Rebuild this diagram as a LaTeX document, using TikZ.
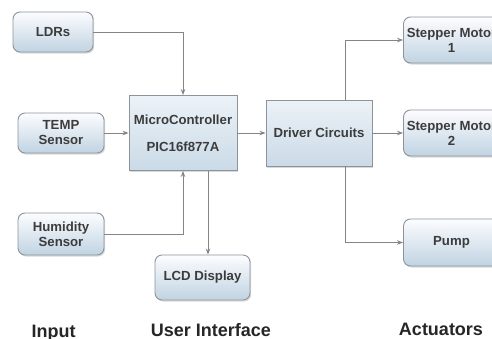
\documentclass[tikz,border=0pt]{standalone}
\usepackage{fontspec}
\setmainfont{Liberation Sans}
\usetikzlibrary{arrows.meta,shadows,calc}
\definecolor{txt}{HTML}{3C3C3C}
\definecolor{edge}{HTML}{8C949B}
\definecolor{wire}{HTML}{858585}
\tikzset{
  rbox/.style={draw=edge, line width=0.9pt, rounded corners=7pt, top color=white!90!blue!10, bottom color={rgb,255:red,192;green,211;blue,226},
    drop shadow={opacity=0.3, shadow xshift=1.2pt, shadow yshift=-1.5pt},
    text=txt, font=\bfseries\fontsize{13.2}{15}\selectfont, align=center, inner sep=2pt},
  sbox/.style={draw=edge, line width=0.9pt, top color={rgb,255:red,236;green,242;blue,247}, bottom color={rgb,255:red,202;green,218;blue,231},
    drop shadow={opacity=0.3, shadow xshift=1.2pt, shadow yshift=-1.5pt},
    text=txt, font=\bfseries\fontsize{13.2}{15}\selectfont, align=center, inner sep=2pt},
  wirearr/.style={draw=wire, line width=0.9pt, -{Stealth[length=6pt,width=4.5pt]}},
  grouplbl/.style={text=black!85, font=\bfseries\fontsize{18}{20}\selectfont, anchor=base, inner sep=0pt}
}
\begin{document}
\begin{tikzpicture}[x=1pt,y=-1pt]
\useasboundingbox (0,0) rectangle (492,338);
\clip (0,0) rectangle (492,338);
\node[rbox, minimum width=80pt, minimum height=40pt] (ldr) at (53,32) {LDRs};
\node[rbox, minimum width=86pt, minimum height=40pt] (temp) at (61,133) {TEMP\\Sensor};
\node[rbox, minimum width=86pt, minimum height=42pt] (hum) at (61,234) {Humidity\\Sensor};
\node[sbox, minimum width=108pt, minimum height=75pt] (mc) at (183,133) {MicroController\\[12pt]PIC16f877A};
\node[sbox, minimum width=106pt, minimum height=66pt] (drv) at (319,133) {Driver Circuits};
\node[rbox, minimum width=96pt, minimum height=46pt] (st1) at (451.5,40) {Stepper Motor\\1};
\node[rbox, minimum width=96pt, minimum height=46pt] (st2) at (451.5,133) {Stepper Motor\\2};
\node[rbox, minimum width=96pt, minimum height=47pt] (pump) at (451.5,242.5) {Pump};
\node[rbox, minimum width=95pt, minimum height=45pt] (lcd) at (202.5,277.5) {LCD Display};

\draw[wirearr] (ldr.east) -| (mc.north);
\draw[wirearr] (temp.east) -- (mc.west);
\draw[wirearr] (hum.east) -| (mc.south);
\draw[wirearr] ([xshift=25pt]mc.south) -- ([xshift=25pt]mc.south |- lcd.north);
\draw[wirearr] (mc.east) -- (drv.west);
\draw[wirearr] ([xshift=26pt]drv.north) |- (st1.west);
\draw[wirearr] (drv.east) -- (st2.west);
\draw[wirearr] ([xshift=26pt]drv.south) |- (pump.west);

\node[grouplbl] (lin) at (53.5,337) {Input};
\node[grouplbl] (lui) at (211,336) {User Interface};
\node[grouplbl] (lact) at (441,335) {Actuators};
\end{tikzpicture}
\end{document}
